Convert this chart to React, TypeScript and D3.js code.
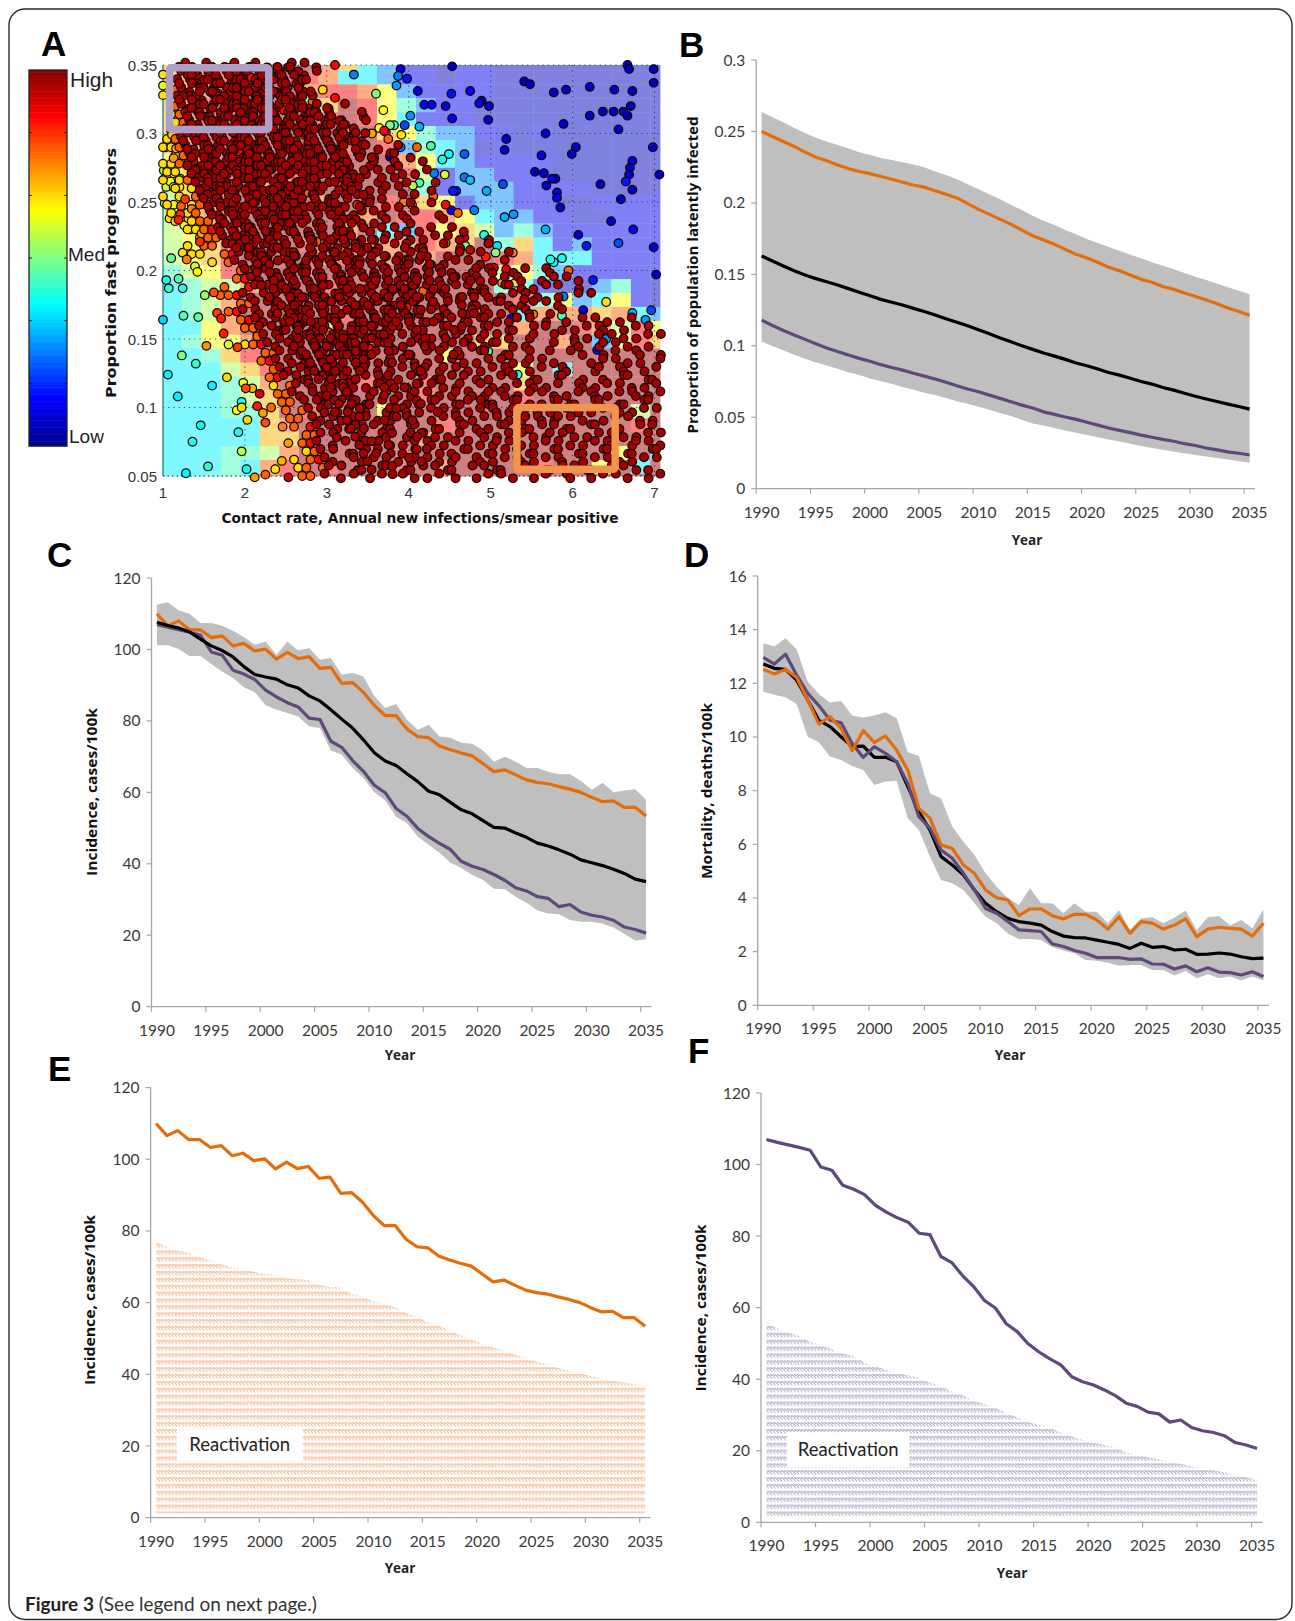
import React from 'react';
import * as d3 from 'd3';

const years = d3.range(1990, 2036);
const tickYears = d3.range(1990, 2036, 5);

// panel B, proportion latently infected
const latentUpper = [.2638,.26,.2565,.2525,.249,.2456,.243,.2405,.238,.2355,.2335,.2315,.23,.2285,.2268,.2249,.222,.2195,.2165,.213,.2095,.206,.2025,.1985,.195,.191,.1875,.1845,.181,.178,.1747,.172,.1692,.1665,.1638,.1612,.1585,.156,.1535,.151,.1484,.146,.1435,.141,.1385,.1362];
const latentLower = [.1029,.0998,.0968,.0938,.091,.0884,.0862,.084,.0815,.0795,.0772,.0752,.0735,.0712,.0692,.0672,.0655,.0635,.0612,.0595,.0574,.0552,.053,.0508,.0482,.0457,.0442,.0425,.0408,.0392,.0376,.036,.0345,.033,.0315,.0299,.0285,.0272,.0258,.0248,.0236,.0225,.0215,.0205,.0192,.0182];
const latentOrange = [.25,.2465,.243,.2395,.2355,.232,.2295,.2265,.224,.222,.2205,.2185,.2165,.2145,.2125,.211,.2085,.206,.2035,.1995,.1955,.192,.1885,.185,.181,.177,.174,.171,.1675,.164,.1615,.1585,.155,.1525,.1495,.1465,.1445,.1415,.1395,.137,.1345,.132,.1295,.1265,.124,.1213];
const latentBlack = [.1628,.1593,.1558,.1525,.1495,.147,.1448,.1425,.14,.1375,.135,.1325,.1305,.1285,.1262,.124,.1215,.119,.1165,.114,.1113,.1085,.1055,.1028,.1,.0975,.095,.0928,.0905,.088,.086,.0838,.0813,.0795,.0773,.075,.0732,.0708,.069,.0668,.0647,.0628,.061,.0592,.0575,.0557];
const latentPurple = [.118,.1142,.1107,.1075,.1045,.1015,.0985,.096,.0935,.0912,.0892,.0868,.0848,.083,.0808,.0788,.0768,.0745,.072,.0698,.0678,.0655,.0632,.0608,.0585,.0565,.0538,.052,.0502,.0485,.0465,.0445,.0425,.0408,.0392,.0375,.036,.0345,.0332,.0315,.0302,.0285,.0272,.0258,.0248,.0236];

// panel C / E / F, incidence
const incUpper = [112.5,113.2,111,110,107.4,107.4,106.6,105.2,103.5,101.3,102.2,98.5,102.2,99.7,100.4,97.1,97.6,92.9,93.5,92.4,87,83.6,84.7,80.3,77.5,78.9,75.6,75.3,73.9,73.6,71.7,68.6,70,68.6,66.8,66.8,65.8,65.1,65.1,63.2,60.7,62.7,60,60.5,60.9,57.9];
const incLower = [101.2,101.2,100.1,98.2,98.2,95.9,93.8,92,89.4,88,84.4,83.1,82.2,81.2,78.4,78,71.7,70.5,66.8,64,60,57.7,53.2,51.4,47.6,45.3,43.1,40.3,38.8,36.9,35.5,33,32.9,30.8,29.1,26.9,26.1,25.9,24.3,23.8,23.8,23.2,22.2,20.4,18.5,18.9];
const incOrange = [110,106.6,108,105.5,105.5,103.3,103.8,101,101.7,99.6,100.1,97.3,99.2,97.4,98,94.7,95,90.5,90.7,88,84.3,81.5,81.5,77.7,75.6,75.3,73,71.9,71,70.2,68,65.8,66.3,64.9,63.5,62.8,62.4,61.6,60.9,60,58.6,57.4,57.6,55.8,55.8,53.4];
const incBlack = [107.6,106.7,106,104.9,102.9,101,99.7,97.9,95.2,93,92.3,91.7,90.1,89.2,87,85.6,83.1,80.5,78,74.7,71.1,68.8,67.5,65.2,63,60.3,59.3,57.2,55.1,54,52.1,50.2,50,48.6,47.4,45.8,45,43.9,42.7,41.1,40.3,39.5,38.5,37.3,35.7,35];
const incPurple = [107,106.2,105.5,104.8,104,99.3,98.4,94.2,93.1,91.6,88.6,86.7,85.1,83.9,80.8,80.4,74.3,72.6,68.9,65.9,62,59.9,55.5,53.3,49.9,47.6,45.7,44,40.7,39.3,38.4,37,35.4,33.3,32.4,30.8,30.3,28,28.6,26.5,25.6,25.1,24.2,22.3,21.6,20.6];
const reactivationOrange = [77,75.5,74.5,74,72.7,71.7,70.8,69.8,69.2,68.6,68,67.8,66.8,66.5,66.3,65,64.3,64.2,62.5,61.7,60.4,59.5,58.8,57.2,56,54.5,53.5,52.3,51,49.8,48.6,47.5,46.6,45.5,44.6,43.6,42.8,41.8,41,40.4,39.5,38.9,38.3,37.8,37.2,36.8];
const reactivationPurple = [56,54,53,52,50.5,49.5,48.4,47.2,46.5,44.5,43.6,42.6,41.8,41,40.4,39,38,36.5,35.5,34,33,32,30.5,29.3,28,27.2,26.4,25,24,23,22.3,21.6,21,19.5,18.9,18.2,17.6,17,16.3,15.6,15.2,14.5,14,13.2,12.6,11.7];

// panel D, mortality
const mortUpper = [13.49,13.37,13.68,13.27,12.06,11.6,11.29,11.34,10.8,10.73,10.8,10.92,10.7,9.43,9.29,7.9,7.71,6.66,6.1,5.6,4.92,4.42,3.99,3.74,4.36,3.8,3.8,3.43,3.8,3.49,3.49,3.06,3.55,2.81,3.24,3.28,3.06,3.27,3.53,2.81,3.28,3.33,2.97,3.18,2.87,3.58];
const mortLower = [11.69,11.57,11.48,11.23,10.01,9.8,9.27,9.14,8.92,8.77,8.21,8.34,8.37,6.97,6.53,5.54,4.67,4.55,4.3,3.8,3.3,3.06,2.68,2.46,2.47,2.43,2.16,2.04,1.94,1.69,1.66,1.59,1.47,1.5,1.5,1.32,1.32,1.11,1.28,1.01,1.16,1.01,1.07,.92,1.07,.92];
const mortOrange = [12.52,12.35,12.52,12.22,11.38,10.48,10.76,10.32,9.49,10.24,9.8,10.04,9.51,8.77,7.34,6.97,5.98,5.85,5.23,4.92,4.3,4.01,3.93,3.34,3.59,3.59,3.34,3.22,3.39,3.39,3.18,2.84,3.3,2.68,3.12,3.06,2.84,2.99,3.22,2.56,2.84,2.91,2.87,2.84,2.58,3.06];
const mortBlack = [12.72,12.56,12.52,12.12,11.38,10.63,10.39,10.01,9.64,9.66,9.24,9.24,9.08,8.15,7.22,6.53,5.54,5.23,4.86,4.3,3.8,3.49,3.24,3.12,3.06,2.99,2.75,2.58,2.52,2.51,2.43,2.35,2.27,2.12,2.31,2.16,2.19,2.06,2.09,1.9,1.91,1.95,1.91,1.81,1.74,1.76];
const mortPurple = [12.97,12.72,13.09,12.31,11.63,11.17,10.63,10.53,9.76,9.24,9.64,9.39,9.08,8.27,7.03,6.6,5.79,5.48,4.92,4.3,3.61,3.43,3.12,2.81,2.78,2.75,2.29,2.19,2.04,1.94,1.78,1.78,1.78,1.71,1.73,1.54,1.53,1.35,1.47,1.25,1.4,1.24,1.22,1.13,1.25,1.07];

// panel A, jet colour scale
const jetStops = [0, 0.125, 0.375, 0.625, 0.875, 1];
const jetColors = ['#00008f', '#0000ff', '#00ffff', '#ffff00', '#ff0000', '#800000'];
const heatLevels: Record<string, number> = { '0': .05, '1': .105, '2': .26, '3': .36, '4': .44, '5': .54, '6': .62, '7': .7, '8': .78, '9': .87, a: .97 };

// panel A, emulator surface read cell by cell, top row first
const heatRows = [
  '7889aaaa873211011000000000',
  '7889aaa9833211011000000000',
  '7889aaa8998621111000000000',
  '7899aaa47a9642110000000000',
  '7899aaaa9a9631110000000000',
  '78999aaaa9a764221101000000',
  '7899aaaaa9a924320100000000',
  '6899aaaa9aaa86321111000000',
  '6789aa9aaaaa95122111000000',
  '5789a8aaaaaaa4122211110000',
  '5689aa9a8aa9a7612211001111',
  '5689aaaaaa8a99863221100111',
  '5679aaaaa8a329675242111111',
  '5679aaa9aa888987a473121111',
  '5679aaaa89a8a8aaa983331111',
  '4569aaa9aaaaaaaaa564211111',
  '34558aaa9aaaaaaaa441002410',
  '3458aaaaaaaaaaaaaa94623610',
  '3458aaaaa9aaaaaaaa38887832',
  '3368aaaa6aaaaaaaaa8aa98596',
  '34668aaaaaaaaaaa77aa8a2697',
  '33479aaa9aaaaa6aaaaaaaaaaa',
  '333579aaaaaaaaaaaa6a3aaaaa',
  '333458aaaa9aa9aaaa7aaaaaaa',
  '333457aaaaaaa9aaaa9aaaaaaa',
  '333447a9aaa6aaaaaaaaaaaa5a',
  '3333378aaaaaaa9aaaaaaaaa9a',
  '3333377aaaaaa8aaaaaaaaaaaa',
  '3334458aaaaa9aaaaaaaaaa6a3',
  '3334389a9aaa9a8aaaa9aa6a3a',
  '3334389aaaaa8aaaaaaaaaaaaa',
];

// panel A, separate runs in the thin part of the cloud: contact rate, proportion, colour value
const loneRuns: [number, number, number][] = [
  [4.53,.349,.05],[3.9,.347,.1],[6.67,.35,.05],[6.69,.347,.05],[6.99,.347,.05],[6.99,.337,.05],[3.87,.342,.25],[3.98,.34,.15],[5.41,.338,.06],[5.48,.336,.06],
  [5.77,.33,.06],[5.92,.332,.06],[6.21,.334,.06],[6.51,.332,.06],[6.73,.331,.05],[4.11,.331,.09],[4.52,.329,.14],[4.75,.331,.11],[4.86,.322,.1],[4.89,.324,.08],
  [4.98,.32,.07],[4.19,.321,.12],[4.28,.321,.12],[4.45,.32,.08],[6.71,.32,.05],[4.53,.311,.1],[4.97,.31,.07],[6.21,.313,.06],[6.37,.316,.05],[6.5,.316,.05],
  [6.62,.316,.05],[6.67,.313,.05],[5.89,.307,.07],[6.56,.303,.06],[4.13,.305,.3],[4.02,.313,.27],[3.95,.306,.2],[3.85,.335,.28],[5.19,.296,.06],[5.67,.3,.07],
  [5.17,.288,.06],[6.98,.29,.06],[6.04,.29,.08],[5.99,.285,.08],[5.62,.284,.09],[6.73,.28,.08],[6.7,.275,.08],[6.69,.27,.08],[7.06,.27,.05],[5.54,.272,.07],
  [5.65,.271,.07],[5.75,.267,.09],[5.79,.267,.06],[5.68,.262,.07],[6.34,.263,.05],[6.65,.265,.15],[6.73,.259,.06],[5.81,.257,.09],[5.81,.253,.11],[6.59,.252,.06],
  [5.85,.246,.07],[6.47,.236,.06],[6.74,.23,.12],[6.07,.226,.07],[6.17,.218,.15],[6.56,.22,.2],[6.99,.217,.07],[7.02,.197,.06],[6.25,.193,.15],[5.15,.263,.2],
  [4.95,.258,.3],[4.68,.268,.25],[4.75,.266,.32],[4.68,.285,.22],[4.54,.258,.15],[4.58,.258,.12],[4.31,.271,.25],[4.49,.285,.38],[4.41,.281,.4],[4.27,.291,.45],
  [3.9,.29,.25],[4.44,.27,.58],[4.13,.264,.45],[4.8,.244,.25],[5.17,.239,.3],[5.28,.241,.28],[5.67,.23,.3],[5.87,.209,.4],[5.77,.206,.37],[5.73,.208,.4],
  [4.92,.226,.4],[5.08,.218,.35],[5.06,.213,.5],[5.27,.213,.75],[5.3,.191,.65],[5.14,.191,.72],[5.19,.201,.9],[4.94,.21,.85],[5.04,.202,.92],[4.68,.224,.93],
  [4.75,.215,.93],[4.45,.22,.55],[4.69,.218,.5],[4.52,.244,.1],[3.6,.329,.5],[3.69,.317,.62],[3.91,.299,.65],[3.77,.306,.5],[3.45,.312,.93],[3.82,.306,.45],
  [3.64,.304,.63],[3.72,.301,.78],[3.55,.3,.72],[3.77,.283,.08],[3.33,.343,.25],[4.05,.262,.55],[3.94,.25,.75],[4.04,.248,.72],[3.37,.248,.85],
  [5.89,.181,.25],[6.41,.177,.65],[5.41,.179,.97],[5.87,.167,.45],[5.52,.168,.75],[6.13,.171,.1],[6.73,.169,.3],[6.96,.171,.2],[6.89,.164,.28],[6.41,.15,.28],
  [6.3,.142,.1],[5.25,.165,.12],[5.33,.124,.4],[4.97,.141,.45],
  [1,.164,.33],[1.04,.193,.4],[1.07,.187,.42],[1.19,.194,.45],[1.24,.187,.4],[1.25,.167,.45],[1.43,.166,.47],[1.51,.182,.52],[1.62,.184,.8],[1.23,.138,.5],
  [1.4,.132,.42],[1.06,.124,.37],[1.18,.108,.36],[1.6,.116,.37],[1.46,.087,.38],[1.36,.075,.4],[1.28,.052,.37],[1.55,.057,.42],[1.92,.082,.4],[1.96,.068,.55],
  [2.02,.055,.4],[2.12,.049,.72],[2.25,.051,.78],[2.37,.055,.65],[2.03,.091,.66],[1.96,.104,.4],[1.9,.098,.62],[1.96,.1,.66],[1.98,.118,.63],[1.78,.122,.66],
  [2.09,.114,.7],[2.01,.114,.8],[1.53,.145,.73],[1.74,.154,.85],[1.66,.169,.82],[1.71,.165,.85],[1.8,.146,.6],[1.91,.144,.82],[2.25,.089,.8],[2.18,.11,.9],
  [2.15,.101,.85],[2.22,.096,.72],[2.32,.1,.78],[2.46,.086,.75],[2.53,.074,.72],[2.45,.061,.7],[2.53,.049,.92],
  [1,.343,.65],[1,.335,.6],[1,.328,.65],[1.03,.29,.66],[1.11,.299,.68],[1.16,.289,.7],[1.13,.282,.72],[1.05,.276,.58],[1.01,.273,.55],[1.07,.27,.58],
  [1.13,.271,.62],[1.21,.267,.65],[1.02,.267,.55],[1.09,.265,.6],[1.04,.261,.57],[1.13,.261,.6],[1.2,.261,.65],[1.02,.249,.55],[1.13,.248,.6],[1.08,.238,.65],
  [1.22,.247,.78],[1.27,.252,.82],[1.35,.245,.75],[1.21,.241,.83],[1.19,.237,.85],[1.31,.238,.66],[1.26,.233,.6],[1.33,.23,.5],[1.45,.221,.83],[1.47,.227,.72],
  [1.24,.213,.66],[1.29,.208,.75],[1.1,.209,.47],[1.39,.203,.58],[1.42,.199,.63],
];

// panel A, the crowded part of the cloud, read as a chart of marks.
// each row is one step of proportion, each letter one step of contact rate;
// the letter says which corner of the step the run sits in and how red it is.
const crowdRows = [
  '...a.bc.da.b.c.dab.c.A',
  '..abcdabcdabdcabdcb',
  '..abdcbadcabdcbadc',
  '.Oacbdabcdbacdbadc.Y',
  '..abdcbadcabdcbadcb..A',
  '.Oacbdabcdbacdabcdb.c.a',
  '.YOabdcbadcabdcbadcab...b',
  '.YOacdbabcdbacdabdcbabc.b',
  '.Y.abcdabdcbadcabdcbadab.c.A',
  'YOabdcbadcabcdbacdabcdbac..O',
  'YYOacbdabcdbacdbadcabdc.bad..a.O',
  '.YOabdcbadcabdcbadcabdcbad.ba.c',
  'YYOOacbdabcdbacdabcd.abc.da.bc..a',
  'YY.Oabcdabdcbadcabdcb.acd.ab.cd.a',
  'Y.YOOabdcbadcabcdbacd.abc.dab.c..d',
  '.Y.YOacbdabdcbacdabc.dab.cdab...d',
  'Y.Y.Oabcdabcdbadcab.dcb.ad.c.b.a.O',
  'Y..YOOabdcbadcabdcb.adc.ba.cd.a.b.A',
  '.Y.YO.acbdabcdbacd.ab.cdb.ac.d.a..c.O',
  '.Y.YOO.abdcbadcab.dc.ab.cd.a.bc...a',
  '...YYOAabcdabdcba.cd.bac.d.ab.cd.a.b.c',
  '....YOOacbdabcd.abc.dab.cd.ab.cd.ab.c..d',
  '...Y.OO.abdcbadc.ab.cdb.acd.b.adc.b.d...a',
  '...YY..OAabcdab.cda.bcd.ab.cd.abc.d.a.b...a',
  '......Y.Oacbda.bcd.abc.dab.c.dab.cd.ab.c..a',
  '.........OOabd.cbadc.ab.cd.abcd.ab.c.dabc.d.a.bc.O',
  '.........OAacbd.abcd.bac.dab.cdab.cda.bcd.abc.d.ab.c',
  '.......O..Aabdcba.dcab.cdb.acdb.adcb.adc.bad.cb.a.d',
  '.......OOAacbdabcdbacd.ab.cdabcd.abcd.abcd.ab.c.d..ab',
  '.........OOabdcbad.cab.dcbadcab.dcb.adc.bacd.ab.c...',
  '........OAabcdabdc.ba.cdabcdabcd.abc.dabcd.abc.d.a.',
  '.........OAacbdabcdbac.dabdcb.adcb.adcbad.cab.d..c.ab.cd.a',
  '..........OOabdcbadcab.dcbadcabdc.bad.cba.dc.b.a.cd.abc.d.ab.',
  '...........Oabcdabdcbadcabcd.abcd.ab.cdab.c.da.b..cd.ab.cd.abc',
  '..........YOAacbdabcdbacdab.cdb.acdb.acdba.cd...a.bc.dab.c.d',
  '............OOabdcbadcabdc.badc.ab.dc.ba.dc.b..a.b.c.d.a.bc.da',
  '............OAabcdabdc.bacd.ab.cd.ab.cd.ab.cdab.c...d.ab.cd..ab',
  '.............Oacbdabcd.ba.cd.abc.dab.cd.abc.d.a.bc..da.bc.d.a.bc',
  '.............OAabdcb.adc.abd.cb.adcb.ad.cb.a.dc.ba.d..c.ba.dc.bad',
  '.............Y.Oabcda.bcd.abcd.ab.cda.b.cd.abcd.a.bcd.ab.cd.ab.cd',
  '..............OOacbd.abc.dab.cdab.cdabcdabcd.ab.cd.abcd.abcd.ab.cd',
  '..............OO.abdcb.adcb.ad.cba.dcabdc.bad.cbadc.ba.dc.ba.dc.ba',
  '...............O.Oabcd.abc.dabcd.ab.cd.abcdab.cdab.cd.abcd.ab.cdab',
  '...............OO.acbd.ab.cdabc.d.abcd.ab.cdabcdab.c.d.ab.cd.ab.c',
  '................O.Aabd.cb.adc.ba.dc.bad.cba.dcb.adc.ba.dc.b.adc.ba',
  '.................OOabc.da.bc.dab.cd.a.bcd.ab.cdab.cd.ab.cd.ab.cd.a',
  '.................OAa.cb.dab.cd.abcd.ab.cdab.cd.ab.cd.abc.dab.c.dab',
  '.................YOab.dcb.ad.cb.ad.cba.dcb.adc.ba.dc.ba.dc.ba.dc.a',
  '................Y.OAac.bd.ab.cdab.cda.bcd.abcd.abc.d.ab.cd.ab.c.db',
  '................YO.Oab.dc.ba.dcb.adc.b.adc.ba.dcb.adc.b.ad.c.ba.dc',
  '.................OO.a.cb.d.a.b.cd.a.c.d.ab.c.d.a.bc.d.ab.c.d.ab.cd',
];
// second reading of the same cloud, rows sitting between the rows above
const crowdInfill = [
  '..abcdabdcbadcabd',
  '..badcabdcAbdcabdc',
  '..abdcbadcabdcbad',
  '..cdabAcdbacdabcdb',
  '..abdcbadcabdcbadcO',
  '...acbdabcdbacAabdcb',
  '...abdcbadcabdcbadcabd',
  '...acdbabAdbacdabdcbab',
  '...abcdabdcbadcabOcbadab',
  '..abdcbadcabcdbacAabcdba',
  '...acbdabAdbacdbadcabdcb',
  '...abdcbadcabdcOadcabdcb.a',
  '...acbdabcdbacdabAd.abc.d',
  '...abcdabdcbadcabdcb.acd',
  '....abdcOadcabcdbacd.abc',
  '....acbdabdcbacdaOc.dab.c',
  '.....abcdabcdbadcab.dcb',
  '.....abdcbAdcabdcb.adc.b',
  '......acbdabcdbacd.ab.cd',
  '.......abdcbadAab.dc.ab.c',
  '.......abcdabdcba.cd.bac',
  '........cbdabcd.abOdab.c.ab',
  '.........abdcbadc.ab.cdb.ac..b',
  '..........abcdAb.cda.bcd.ab.cd.a',
  '..........cbda.bcd.abc.dab.c.da.b',
  '...........abd.cbadc.Ab.cd.abcd.ab.cd',
  '............cbd.abcd.bac.dab.cdab.c..b',
  '.............abdcba.dcab.cdb.acOb.a..d',
  '.............acbdabcdbAcd.ab.cdabc..b.a',
  '..............abdcbad.cab.dcbAdc....a',
  '..............abcdabdc.ba.cdabc..d..b.a',
  '...............acbdabcdbac.dab..b...c',
  '...............abdcbOdcab.dc...a...b',
  '................abcdabdcbadc...b..a',
  '................acbdabcdbAcd....a...c',
  '.................abdcbadca...b.....a',
  '..................abcdabd..ba...c',
  '..................acbdab...c...a',
  '...................abdcb..d....c..a',
  '....................abc...b..a',
  '....................ac.d...a...c',
  '.....................abd....c..a',
  '.....................ab.c...d....b',
  '......................ac..b...a',
  '.......................ab...c..d',
  '.......................a.c....b',
  '........................a..b...c',
  '........................ab...d',
  '.........................a..c..b',
  '.........................a.d',
];
const crowdKinds: Record<string, [number, number, number]> = {
  a: [-.28, -.28, .965], b: [.28, -.28, .965], c: [-.28, .28, .965], d: [.28, .28, .965],
  A: [0, 0, .87], O: [0, 0, .78], Y: [0, 0, .66],
};

const ink = '#3a3a3a';
const axisGrey = '#a6a6a6';
const bandGrey = '#bfbfbf';
const orange = '#e46c0a';
const purple = '#5f497a';
const labelFont = 'Lato, sans-serif';
const titleFont = '"Open Sans", sans-serif';
const arial = '"Liberation Sans", Arial, sans-serif';

const jet = d3.scaleLinear<string>().domain(jetStops).range(jetColors);
const paleJet = (f: number) => d3.interpolateRgb(jet(f), '#ffffff')(0.5);

const fmtProp = (v: number) => String(+v.toFixed(2));

function yearScale(x0: number, x1: number) {
  return d3.scaleBand<number>().domain(years).range([x0, x1]);
}

interface ChartProps {
  x0: number;
  x1: number;
  yTop: number;
  yBottom: number;
  maxY: number;
  step: number;
  format?: (v: number) => string;
  yTitle: string;
  yTitleX: number;
  yTitleY: number;
  yTitleLen: number;
  yearX: number;
  yearY: number;
  children: (x: (i: number) => number, y: d3.ScaleLinear<number, number>, band: d3.ScaleBand<number>) => React.ReactNode;
}

const Chart = (p: ChartProps) => {
  const band = yearScale(p.x0, p.x1);
  const y = d3.scaleLinear().domain([0, p.maxY]).range([p.yBottom, p.yTop]);
  const x = (i: number) => (band(years[i]) as number) + band.bandwidth() / 2;
  const yTicks = d3.range(0, p.maxY + p.step / 2, p.step);
  return (
    <g>
      {p.children(x, y, band)}
      <line x1={p.x0} x2={p.x0} y1={p.yTop} y2={p.yBottom} stroke={axisGrey} strokeWidth={1.3} />
      <line x1={p.x0} x2={p.x1} y1={p.yBottom} y2={p.yBottom} stroke={axisGrey} strokeWidth={1.3} />
      {yTicks.map((t) => (
        <g key={t}>
          <line x1={p.x0 - 5} x2={p.x0} y1={y(t)} y2={y(t)} stroke={axisGrey} strokeWidth={1.2} />
          <text x={p.x0 - 11} y={y(t) + 5.5} textAnchor="end" fontFamily={labelFont} fontSize={15.5} fill={ink}>
            {p.format ? p.format(t) : t}
          </text>
        </g>
      ))}
      {tickYears.map((yr) => (
        <g key={yr}>
          <line x1={band(yr)} x2={band(yr)} y1={p.yBottom} y2={p.yBottom + 5} stroke={axisGrey} strokeWidth={1.2} />
          <text x={(band(yr) as number) + band.bandwidth() / 2} y={p.yBottom + 29} textAnchor="middle" fontFamily={labelFont} fontSize={15.5} fill={ink}>
            {yr}
          </text>
        </g>
      ))}
      <text
        transform={`translate(${p.yTitleX},${p.yTitleY}) rotate(-90)`}
        textAnchor="middle"
        dy="0.35em"
        fontFamily={titleFont}
        fontWeight={700}
        fontSize={14}
        textLength={p.yTitleLen}
        lengthAdjust="spacingAndGlyphs"
        fill="#111"
      >
        {p.yTitle}
      </text>
      <text x={p.yearX} y={p.yearY} dy="0.35em" textAnchor="middle" fontFamily={titleFont} fontWeight={700} fontSize={13.5} fill="#222">
        Year
      </text>
    </g>
  );
};

const seriesLine = (x: (i: number) => number, y: d3.ScaleLinear<number, number>) =>
  d3.line<number>().x((_, i) => x(i)).y((d) => y(d));

const bandArea = (x: (i: number) => number, y: d3.ScaleLinear<number, number>, lower: number[]) =>
  d3.area<number>().x((_, i) => x(i)).y1((d) => y(d)).y0((_, i) => y(lower[i]));

const Ribbon = ({ x, y, upper, lower, lines }: { x: (i: number) => number; y: d3.ScaleLinear<number, number>; upper: number[]; lower: number[]; lines: [number[], string][] }) => (
  <g>
    <path d={bandArea(x, y, lower)(upper) as string} fill={bandGrey} />
    {lines.map(([vals, col]) => (
      <path key={col} d={seriesLine(x, y)(vals) as string} fill="none" stroke={col} strokeWidth={3.2} strokeLinejoin="round" />
    ))}
  </g>
);

const HatchPanel = ({ x, y, band, line, lower, col, pat, box }: { x: (i: number) => number; y: d3.ScaleLinear<number, number>; band: d3.ScaleBand<number>; line: number[]; lower: number[]; col: string; pat: string; box: [number, number, number, number] }) => {
  const area = d3.area<number>().x((_, i) => x(i)).y1((d) => y(d)).y0(() => y(1.2));
  const bx = (band(years[0]) as number) + (box[0] - 1990) * band.step();
  const bx2 = (band(years[0]) as number) + (box[1] - 1990) * band.step();
  return (
    <g>
      <path d={area(lower) as string} fill={`url(#${pat})`} />
      <rect x={bx} width={bx2 - bx} y={y(box[3])} height={y(box[2]) - y(box[3])} fill="#fff" />
      <text x={(bx + bx2) / 2} y={(y(box[2]) + y(box[3])) / 2} dy="0.35em" textAnchor="middle" fontFamily={labelFont} fontSize={18.5} fill="#222">
        Reactivation
      </text>
      <path d={seriesLine(x, y)(line) as string} fill="none" stroke={col} strokeWidth={3.2} strokeLinejoin="round" />
    </g>
  );
};

const PanelA = () => {
  const x = d3.scaleLinear().domain([1, 7]).range([163, 654.5]);
  const y = d3.scaleLinear().domain([0.05, 0.35]).range([476, 65]);
  const xRight = 660;

  // emulator cells sit on their own slightly offset mesh
  const colEdge = (c: number) => (c === 0 ? 1 : c >= 26 ? x.invert(xRight) : 1.228 + (c - 1) * 0.2384);
  const rowEdge = (r: number) => (r === 0 ? 0.35 : r >= 31 ? 0.05 : 0.346 - (r - 1) * 0.01015);

  const readRows = (rows: string[], top: number, shift: number) =>
    rows.flatMap((row, r) =>
      row.split('').flatMap((ch, c) => {
        const kind = crowdKinds[ch];
        if (!kind) return [];
        const px = 1 + 0.1 * (c + shift + (r % 2 ? 0.5 : 0) + kind[0]);
        const py = top - 0.006 * (r + kind[1]);
        return px > 7.08 ? [] : [[px, py, kind[2]] as [number, number, number]];
      })
    );
  const marks = d3.sort([...loneRuns, ...readRows(crowdRows, 0.35, 0), ...readRows(crowdInfill, 0.347, 0.25)], (m) => m[2]);

  const barTop = 70;
  const barBottom = 446;
  const barY = d3.scaleLinear().domain([0, 1]).range([barBottom, barTop]);

  return (
    <g>
      {heatRows.map((row, r) =>
        row.split('').map((ch, c) => (
          <rect
            key={`${r}-${c}`}
            x={x(colEdge(c))}
            width={x(colEdge(c + 1)) - x(colEdge(c)) + 0.4}
            y={y(rowEdge(r))}
            height={y(rowEdge(r + 1)) - y(rowEdge(r)) + 0.4}
            fill={paleJet(heatLevels[ch])}
          />
        ))
      )}
      {[0.1, 0.15, 0.2, 0.25, 0.3, 0.35].map((t) => (
        <line key={t} x1={x(1)} x2={xRight} y1={y(t)} y2={y(t)} stroke="#111a55" strokeWidth={1.1} strokeDasharray="1.2 4" opacity={0.75} />
      ))}
      {[2, 3, 4, 5, 6, 7].map((t) => (
        <line key={t} x1={x(t)} x2={x(t)} y1={y(0.35)} y2={y(0.05)} stroke="#111a55" strokeWidth={1.1} strokeDasharray="1.2 4" opacity={0.75} />
      ))}
      <line x1={x(1)} x2={x(1)} y1={y(0.35)} y2={y(0.05)} stroke="#2e8a7e" strokeWidth={1.4} />
      <line x1={x(1)} x2={xRight} y1={y(0.05)} y2={y(0.05)} stroke="#222" strokeWidth={1.2} strokeDasharray="1.5 3" />

      {marks.map((m, i) => (
        <circle key={i} cx={x(m[0])} cy={y(m[1])} r={4.3} fill={jet(m[2])} stroke="#120404" strokeWidth={1.25} />
      ))}

      <rect x={x(1.08)} width={x(2.29) - x(1.08)} y={y(0.348)} height={y(0.303) - y(0.348)} fill="none" stroke="#ad9fc6" strokeWidth={7.5} rx={2} />
      <rect x={x(5.32)} width={x(6.52) - x(5.32)} y={y(0.1)} height={y(0.055) - y(0.1)} fill="none" stroke="#f0954a" strokeWidth={7.5} rx={2} />

      {[0.05, 0.1, 0.15, 0.2, 0.25, 0.3, 0.35].map((t) => (
        <text key={t} x={157} y={y(t) + 5.5} textAnchor="end" fontFamily={arial} fontSize={15} fill="#333">
          {fmtProp(t)}
        </text>
      ))}
      {[1, 2, 3, 4, 5, 6, 7].map((t) => (
        <text key={t} x={x(t)} y={498} textAnchor="middle" fontFamily={arial} fontSize={15} fill="#333">
          {t}
        </text>
      ))}

      {d3.range(0, 1, 1 / 160).map((f) => (
        <rect key={f} x={29} width={38} y={barY(f + 1 / 160)} height={(barBottom - barTop) / 160 + 0.5} fill={jet(f)} />
      ))}
      {[1 / 6, 2 / 6, 3 / 6, 4 / 6, 5 / 6].map((f) => (
        <g key={f}>
          <line x1={29} x2={32} y1={barY(f)} y2={barY(f)} stroke="#222" strokeWidth={1} />
          <line x1={64} x2={67} y1={barY(f)} y2={barY(f)} stroke="#222" strokeWidth={1} />
        </g>
      ))}
      <rect x={29} y={barTop} width={38} height={barBottom - barTop} fill="none" stroke="#222" strokeWidth={1.3} />
      <text x={70} y={87} fontFamily={arial} fontSize={21} fill="#222">High</text>
      <text x={68} y={261} fontFamily={arial} fontSize={19} fill="#222">Med</text>
      <text x={69} y={443} fontFamily={arial} fontSize={19} fill="#222">Low</text>

      <text
        transform="translate(111,273) rotate(-90)"
        dy="0.35em"
        textAnchor="middle"
        fontFamily='"DejaVu Sans", sans-serif'
        fontWeight={700}
        fontSize={14}
        textLength={250}
        lengthAdjust="spacingAndGlyphs"
        fill="#111"
      >
        Proportion fast progressors
      </text>
      <text x={420} y={523} textAnchor="middle" fontFamily='"DejaVu Sans", sans-serif' fontWeight={700} fontSize={14} textLength={397} lengthAdjust="spacingAndGlyphs" fill="#111">
        Contact rate, Annual new infections/smear positive
      </text>
    </g>
  );
};

const Letter = ({ x, y, t }: { x: number; y: number; t: string }) => (
  <text x={x} y={y} fontFamily={arial} fontWeight={700} fontSize={35} fill="#000">
    {t}
  </text>
);

const Hatch = ({ id, col }: { id: string; col: string }) => (
  <pattern id={id} patternUnits="userSpaceOnUse" width={3.4} height={6.87}>
    <path d="M0,0.4 L3.4,4.2 M-1.7,2.2 L0.2,4.2 M1.9,0.0 L3.8,2.2" stroke={col} strokeWidth={0.85} fill="none" />
  </pattern>
);

export default function App() {
  return (
    <svg width={1295} height={1621} style={{ position: 'absolute', left: 0, top: 0, background: '#fff' }}>
      <defs>
        <Hatch id="hatchOrange" col="#f08a40" />
        <Hatch id="hatchPurple" col="#7f6e9c" />
      </defs>
      <rect x={9} y={9} width={1283} height={1610.5} rx={16} fill="none" stroke="#2a2a2a" strokeWidth={1.4} />

      <PanelA />

      <Chart x0={756.2} x1={1255} yTop={60} yBottom={488.7} maxY={0.3} step={0.05} format={fmtProp}
        yTitle="Proportion of population latently infected" yTitleX={693} yTitleY={275} yTitleLen={317} yearX={1027} yearY={540}>
        {(x, y) => <Ribbon x={x} y={y} upper={latentUpper} lower={latentLower} lines={[[latentOrange, orange], [latentBlack, '#000'], [latentPurple, purple]]} />}
      </Chart>

      <Chart x0={151.5} x1={651.5} yTop={578} yBottom={1006.7} maxY={120} step={20}
        yTitle="Incidence, cases/100k" yTitleX={92} yTitleY={792} yTitleLen={168} yearX={400} yearY={1055}>
        {(x, y) => <Ribbon x={x} y={y} upper={incUpper} lower={incLower} lines={[[incPurple, purple], [incOrange, orange], [incBlack, '#000']]} />}
      </Chart>

      <Chart x0={757.7} x1={1269} yTop={576} yBottom={1005.3} maxY={16} step={2}
        yTitle="Mortality, deaths/100k" yTitleX={707} yTitleY={791} yTitleLen={176} yearX={1010} yearY={1055}>
        {(x, y) => <Ribbon x={x} y={y} upper={mortUpper} lower={mortLower} lines={[[mortBlack, '#000'], [mortPurple, purple], [mortOrange, orange]]} />}
      </Chart>

      <Chart x0={150.6} x1={650.6} yTop={1087.6} yBottom={1517.7} maxY={120} step={20}
        yTitle="Incidence, cases/100k" yTitleX={90} yTitleY={1300} yTitleLen={170} yearX={400} yearY={1568}>
        {(x, y, band) => <HatchPanel x={x} y={y} band={band} line={incOrange} lower={reactivationOrange} col={orange} pat="hatchOrange" box={[1992.4, 2004, 15.9, 24.7]} />}
      </Chart>

      <Chart x0={761} x1={1262.5} yTop={1093} yBottom={1522.3} maxY={120} step={20}
        yTitle="Incidence, cases/100k" yTitleX={701} yTitleY={1308} yTitleLen={167} yearX={1012} yearY={1573}>
        {(x, y, band) => <HatchPanel x={x} y={y} band={band} line={incPurple} lower={reactivationPurple} col={purple} pat="hatchPurple" box={[1992.4, 2003.6, 15.4, 25.2]} />}
      </Chart>

      <Letter x={41} y={56} t="A" />
      <Letter x={679} y={57} t="B" />
      <Letter x={47} y={567} t="C" />
      <Letter x={684} y={567} t="D" />
      <Letter x={48} y={1081} t="E" />
      <Letter x={688} y={1063} t="F" />

      <text x={25} y={1611} fontFamily={labelFont} fontSize={19} fill="#333">
        <tspan fontWeight={700} fill="#222">Figure 3</tspan> (See legend on next page.)
      </text>
    </svg>
  );
}
